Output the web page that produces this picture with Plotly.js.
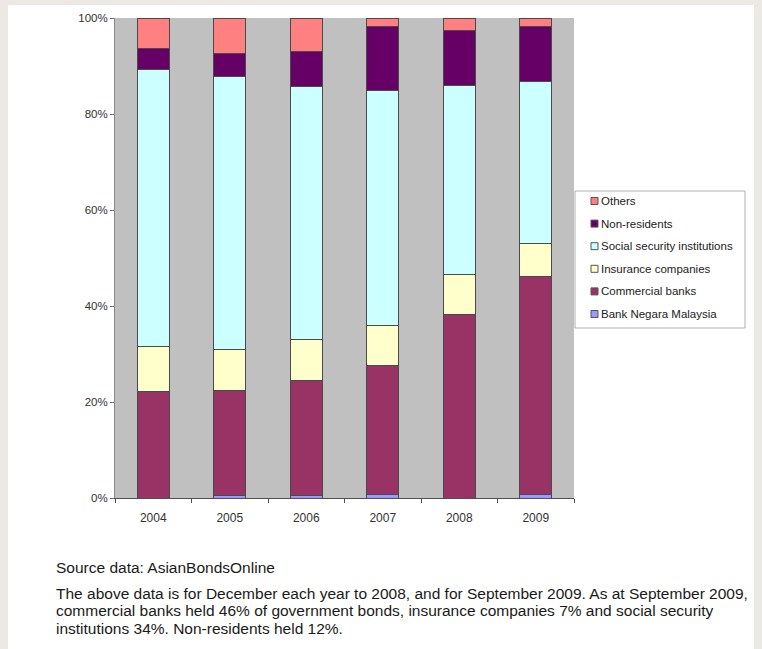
<!DOCTYPE html>
<html>
<head>
<meta charset="utf-8">
<script src="https://cdn.plot.ly/plotly-3.0.1.min.js"></script>
<style>
  html, body { margin: 0; padding: 0; background: #ece9e4; }
  #sheet { position: absolute; left: 8px; top: 5px; width: 746px; height: 644px; background: #ffffff; }
  #chart { position: absolute; left: 0; top: 0; width: 762px; height: 649px; }
</style>
</head>
<body>
<div id="sheet"></div>
<div id="chart"></div>
<script>
// ---- data (percent share of government bonds held) ----
var years = ['2004', '2005', '2006', '2007', '2008', '2009'];
var bankNegara  = [0.0, 0.5, 0.5, 0.8, 0.0, 0.8];
var commercial  = [22.1, 22.0, 23.9, 26.8, 38.3, 45.3];
var insurance   = [9.4, 8.5, 8.7, 8.3, 8.2, 7.0];
var socialSec   = [57.7, 56.9, 52.7, 49.1, 39.5, 33.6];
var nonResident = [4.5, 4.7, 7.3, 13.2, 11.4, 11.5];
var others      = [6.3, 7.4, 6.9, 1.8, 2.6, 1.8];

var seriesNames = ['Bank Negara Malaysia', 'Commercial banks', 'Insurance companies',
                   'Social security institutions', 'Non-residents', 'Others'];
var seriesData = [bankNegara, commercial, insurance, socialSec, nonResident, others];
var seriesColors = ['#9999ff', '#993366', '#ffffcc', '#ccffff', '#660066', '#ff8080'];

var tickVals = [0, 20, 40, 60, 80, 100];
var tickLabels = ['0%', '20%', '40%', '60%', '80%', '100%'];

var sourceLine = 'Source data: AsianBondsOnline';
var noteLines = [
  'The above data is for December each year to 2008, and for September 2009. As at September 2009,',
  'commercial banks held 46% of government bonds, insurance companies 7% and social security',
  'institutions 34%. Non-residents held 12%.'
];

// ---- geometry helpers (pixel -> paper) ----
var W = 762, H = 649;
var M = { l: 115, r: 188, t: 18, b: 151 };
var PW = W - M.l - M.r, PH = H - M.t - M.b;
function px(x) { return (x - M.l) / PW; }
function py(y) { return (H - M.b - y) / PH; }

var FONT = '"Liberation Sans", Arial, sans-serif';

var traces = seriesData.map(function (vals, i) {
  return {
    type: 'bar',
    name: seriesNames[i],
    x: years,
    y: vals,
    marker: { color: seriesColors[i], line: { color: '#4a4a4a', width: 1 } },
    showlegend: false,
    hoverinfo: 'name+y'
  };
});

var shapes = [];
var annotations = [];

// custom legend box
shapes.push({
  type: 'rect', xref: 'paper', yref: 'paper',
  x0: px(575), x1: px(745), y0: py(191), y1: py(328),
  line: { color: '#b0b0b0', width: 1 }, fillcolor: '#ffffff', layer: 'above'
});
for (var k = 0; k < seriesNames.length; k++) {
  var idx = seriesNames.length - 1 - k;
  var cy = 201 + k * 22.6;
  shapes.push({
    type: 'rect', xref: 'paper', yref: 'paper',
    x0: px(591), x1: px(598), y0: py(cy - 3.5), y1: py(cy + 3.5),
    line: { color: '#555555', width: 1 }, fillcolor: seriesColors[idx], layer: 'above'
  });
  annotations.push({
    xref: 'paper', yref: 'paper', x: px(599), y: py(cy),
    xanchor: 'left', yanchor: 'middle', showarrow: false,
    text: seriesNames[idx],
    font: { family: FONT, size: 11.5, color: '#222222' }
  });
}

// footer text
annotations.push({
  xref: 'paper', yref: 'paper', x: px(54), y: py(567),
  xanchor: 'left', yanchor: 'middle', showarrow: false,
  text: sourceLine, font: { family: FONT, size: 15.5, color: '#1a1a1a' }
});
for (var j = 0; j < noteLines.length; j++) {
  annotations.push({
    xref: 'paper', yref: 'paper', x: px(54), y: py(593 + j * 17.8),
    xanchor: 'left', yanchor: 'middle', showarrow: false,
    text: noteLines[j], font: { family: FONT, size: 15.5, color: '#1a1a1a' }
  });
}

var layout = {
  width: W, height: H,
  margin: M,
  paper_bgcolor: 'rgba(0,0,0,0)',
  plot_bgcolor: '#c0c0c0',
  barmode: 'stack',
  bargap: 0.58,
  showlegend: false,
  xaxis: {
    type: 'category',
    showline: true, linecolor: '#505050', linewidth: 1,
    ticks: 'outside', tickson: 'boundaries', ticklen: 4, tickcolor: '#505050',
    ticklabelstandoff: 9,
    tickfont: { family: FONT, size: 12, color: '#333333' },
    showgrid: false, zeroline: false
  },
  yaxis: {
    range: [0, 100],
    tickmode: 'array',
    tickvals: tickVals,
    ticktext: tickLabels,
    showline: true, linecolor: '#8a8a8a', linewidth: 1,
    ticks: 'outside', ticklen: 4, tickcolor: '#707070',
    tickfont: { family: FONT, size: 11.5, color: '#333333' },
    showgrid: false, zeroline: false
  },
  shapes: shapes,
  annotations: annotations
};

Plotly.newPlot('chart', traces, layout, { displayModeBar: false, staticPlot: true });
</script>
</body>
</html>
